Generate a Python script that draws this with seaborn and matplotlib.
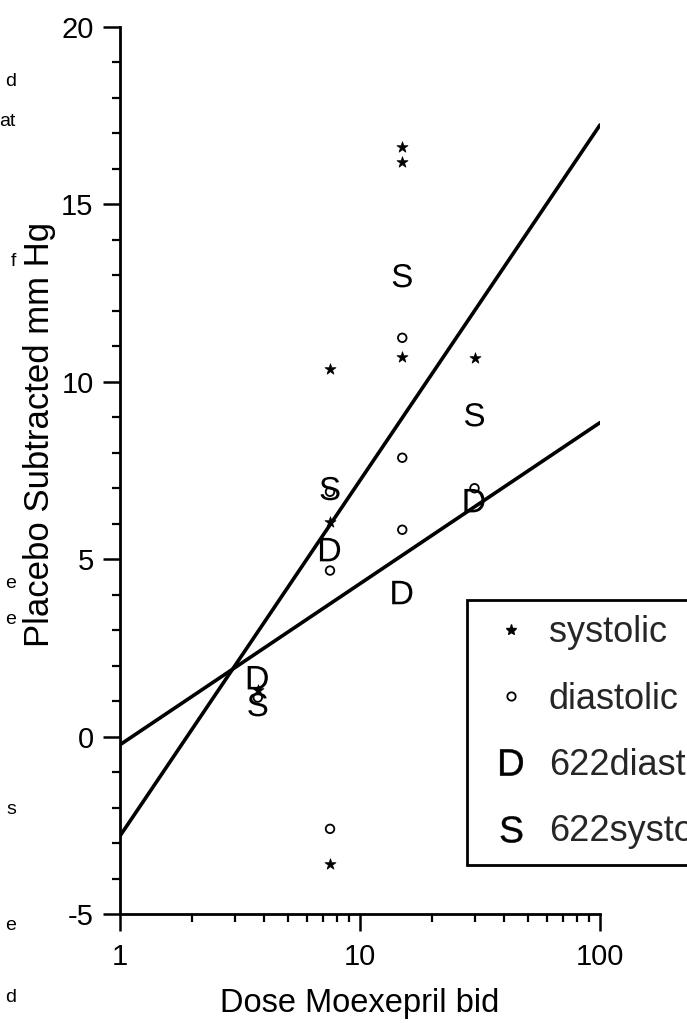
import matplotlib
matplotlib.use("Agg")
import matplotlib.pyplot as plt
import seaborn as sns
from matplotlib.lines import Line2D
from matplotlib.ticker import FixedLocator, MultipleLocator, LogLocator, NullFormatter

# ---- data -------------------------------------------------------------
sys_dose = [3.75, 7.5, 7.5, 7.5, 15, 15, 15, 30]
sys_val = [1.3, 10.35, 6.05, -3.6, 16.62, 16.2, 10.7, 10.68]

dia_dose = [3.75, 7.5, 7.5, 7.5, 15, 15, 15, 30]
dia_val = [1.1, 6.9, 4.68, -2.6, 11.24, 7.86, 5.83, 7.0]

d622_dose = [3.75, 7.5, 15, 30]
d622_val = [1.66, 5.27, 4.06, 6.65]

s622_dose = [3.75, 7.5, 15, 30]
s622_val = [0.9, 6.99, 12.99, 9.07]

# fitted log-linear lines, evaluated at the ends of the dose axis
fit_dose = [1, 100]
fit_sys = [-2.8, 17.24]
fit_dia = [-0.23, 8.85]

x_ticks = [1, 10, 100]
x_ticklabels = ["1", "10", "100"]
y_ticks = [-5, 0, 5, 10, 15, 20]

legend_labels = ["systolic", "diastolic", "622diastolic", "622systolic"]

# ---- style ------------------------------------------------------------
sns.set_theme(style="ticks")
plt.rcParams["font.family"] = ["Liberation Sans", "DejaVu Sans"]
plt.rcParams["mathtext.fontset"] = "custom"
plt.rcParams["mathtext.rm"] = "Liberation Sans"
plt.rcParams["mathtext.sf"] = "Liberation Sans"

W, H = 687, 1023
fig = plt.figure(figsize=(W / 100, H / 100), dpi=100)
fig.patch.set_facecolor("white")
x0, x1, y0, y1 = 120, 600, 27, 914
ax = fig.add_axes([x0 / W, 1 - y1 / H, (x1 - x0) / W, (y1 - y0) / H])
ax.set_facecolor("white")

ax.set_xscale("log")
ax.set_xlim(1, 100)
ax.set_ylim(-5, 20)

# regression lines
sns.lineplot(x=fit_dose, y=fit_sys, ax=ax, color="black", lw=2.6, zorder=2)
sns.lineplot(x=fit_dose, y=fit_dia, ax=ax, color="black", lw=2.6, zorder=2)

D_MARK = r"$\mathrm{D}$"
S_MARK = r"$\mathrm{S}$"

sns.scatterplot(x=sys_dose, y=sys_val, ax=ax, marker="*", s=70,
                color="black", edgecolor="black", linewidth=0.5, zorder=3)
sns.scatterplot(x=dia_dose, y=dia_val, ax=ax, marker="o", s=38,
                facecolor="none", edgecolor="black", linewidth=1.3, zorder=3)
sns.scatterplot(x=d622_dose, y=d622_val, ax=ax, marker=D_MARK, s=285,
                color="black", edgecolor="none", linewidth=0, zorder=3)
sns.scatterplot(x=s622_dose, y=s622_val, ax=ax, marker=S_MARK, s=285,
                color="black", edgecolor="none", linewidth=0, zorder=3)

# axes
sns.despine(ax=ax)
for side in ("left", "bottom"):
    ax.spines[side].set_linewidth(2.0)
    ax.spines[side].set_color("black")

ax.xaxis.set_major_locator(FixedLocator(x_ticks))
ax.set_xticklabels(x_ticklabels)
ax.xaxis.set_minor_locator(LogLocator(base=10, subs=range(2, 10)))
ax.xaxis.set_minor_formatter(NullFormatter())
ax.yaxis.set_major_locator(FixedLocator(y_ticks))
ax.set_yticklabels([str(v) for v in y_ticks])
ax.yaxis.set_minor_locator(MultipleLocator(1))

ax.tick_params(axis="both", which="major", direction="out", length=12,
               width=1.8, color="black", labelsize=21, labelcolor="black")
ax.tick_params(axis="both", which="minor", direction="out", length=6,
               width=1.6, color="black")
ax.tick_params(axis="y", which="major", pad=7)
ax.tick_params(axis="x", which="major", pad=9)

ax.set_xlabel("Dose Moexepril bid", fontsize=23.5, color="black", labelpad=12)
ax.set_ylabel("Placebo Subtracted mm Hg", fontsize=25, color="black")
# right edge of the rotated label sits at x = 56 px
ax.yaxis.set_label_coords(-(x0 - 56) / (x1 - x0), (y1 - 434) / (y1 - y0))

# legend
handles = [
    Line2D([], [], ls="none", marker="*", ms=8, color="black"),
    Line2D([], [], ls="none", marker="o", ms=6, mfc="none", mec="black", mew=1.3),
    Line2D([], [], ls="none", marker=D_MARK, ms=19, color="black", mew=0.3),
    Line2D([], [], ls="none", marker=S_MARK, ms=19, color="black", mew=0.3),
]
leg = ax.legend(handles, legend_labels, loc="upper left",
                bbox_to_anchor=((467 - x0) / (x1 - x0), (y1 - 600) / (y1 - y0)),
                borderaxespad=0, frameon=True, fancybox=False, fontsize=26,
                labelspacing=0.87, handlelength=1.6, handletextpad=0.25,
                borderpad=0.42, framealpha=1)
leg.get_frame().set_edgecolor("black")
leg.get_frame().set_linewidth(2.0)

# fragments of the neighbouring text column at the left edge
for txt, yy in [("d", 82), ("at", 121), ("f", 262), ("e", 584), ("e", 620),
                ("s", 810), ("e", 925), ("d", 997)]:
    fig.text(16 / W, 1 - yy / H, txt, fontsize=14, ha="right", va="center",
             color="black")

fig.savefig("out.png", dpi=100, facecolor="white")
